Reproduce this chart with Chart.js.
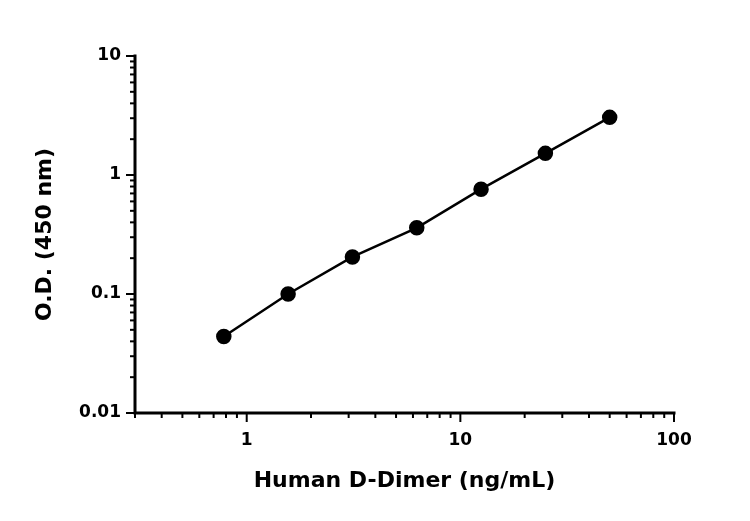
<!DOCTYPE html>
<html><head><meta charset="utf-8">
<script src="https://cdn.jsdelivr.net/npm/chart.js@4/dist/chart.umd.min.js"></script>
<style>body{margin:0;background:#fff}canvas{display:block}</style></head>
<body><canvas id="c" width="750" height="521"></canvas>
<script>
const concentrations = [0.78125, 1.5625, 3.125, 6.25, 12.5, 25, 50];
const odValues = [0.044, 0.100, 0.205, 0.36, 0.76, 1.52, 3.05];
const xTickLabels = [1, 10, 100];
const yTickLabels = [0.01, 0.1, 1, 10];
const xTitle = 'Human D-Dimer (ng/mL)';
const yTitle = 'O.D. (450 nm)';
const FONT = 'bold 17px "DejaVu Sans", sans-serif';

const axesPlugin = {
  id: 'axesPlugin',
  afterDraw(chart) {
    const ctx = chart.ctx, xs = chart.scales.x, ys = chart.scales.y, a = chart.chartArea;
    ctx.save();
    ctx.strokeStyle = '#000'; ctx.fillStyle = '#000'; ctx.lineWidth = 3; ctx.lineCap = 'square';
    ctx.beginPath(); ctx.moveTo(a.left, a.top); ctx.lineTo(a.left, a.bottom); ctx.lineTo(a.right, a.bottom); ctx.stroke();
    ctx.lineWidth = 2; ctx.lineCap = 'butt';
    // x ticks
    for (let e = -1; e <= 2; e++) for (let m = 1; m <= 9; m++) {
      const v = m * Math.pow(10, e); if (v < xs.min || v > xs.max * 1.0001) continue;
      const p = xs.getPixelForValue(v), L = m === 1 ? 9 : 5;
      ctx.beginPath(); ctx.moveTo(p, a.bottom); ctx.lineTo(p, a.bottom + L); ctx.stroke();
    }
    for (let e = -2; e <= 1; e++) for (let m = 1; m <= 9; m++) {
      const v = m * Math.pow(10, e); if (v < ys.min * 0.9999 || v > ys.max * 1.0001) continue;
      const p = ys.getPixelForValue(v), L = m === 1 ? 9 : 5;
      ctx.beginPath(); ctx.moveTo(a.left, p); ctx.lineTo(a.left - L, p); ctx.stroke();
    }
    ctx.font = FONT;
    ctx.textAlign = 'center'; ctx.textBaseline = 'middle';
    xTickLabels.forEach(v => ctx.fillText(String(v), xs.getPixelForValue(v), a.bottom + 28));
    ctx.textAlign = 'right';
    yTickLabels.forEach(v => ctx.fillText(String(v), a.left - 14, ys.getPixelForValue(v)));
    ctx.font = 'bold 22px "DejaVu Sans", sans-serif';
    ctx.textAlign = 'center';
    ctx.fillText(xTitle, (a.left + a.right) / 2, 481);
    ctx.translate(45, (a.top + a.bottom) / 2); ctx.rotate(-Math.PI / 2);
    ctx.fillText(yTitle, 0, 0);
    ctx.restore();
  }
};

new Chart(document.getElementById('c'), {
  type: 'line',
  data: { datasets: [{
    data: concentrations.map((x, i) => ({ x, y: odValues[i] })),
    borderColor: '#000', backgroundColor: '#000', borderWidth: 2.5,
    pointRadius: 6.5, pointHoverRadius: 6.5, tension: 0
  }]},
  options: {
    responsive: false, animation: false,
    plugins: { legend: { display: false }, tooltip: { enabled: false } },
    layout: { padding: { top: 56, right: 76, left: 0, bottom: 0 } },
    scales: {
      x: { type: 'logarithmic', min: 0.311, max: 100, grid: { display: false }, border: { display: false },
           ticks: { display: false }, afterFit: s => { s.height = 108; } },
      y: { type: 'logarithmic', min: 0.01, max: 10, grid: { display: false }, border: { display: false },
           ticks: { display: false }, afterFit: s => { s.width = 135; } }
    }
  },
  plugins: [axesPlugin]
});
</script></body></html>
